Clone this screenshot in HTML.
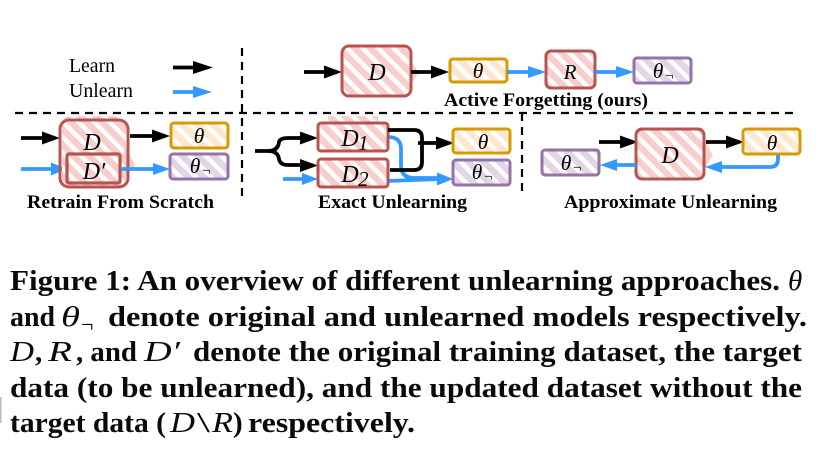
<!DOCTYPE html>
<html><head><meta charset="utf-8">
<style>
html,body{margin:0;padding:0;background:#fff;width:822px;height:454px;overflow:hidden}
svg{display:block}
text{font-family:"Liberation Serif",serif;fill:#000}
.cap{font-size:29px;font-weight:bold;fill:#0a0a0a}
.capm{font-size:29px;font-style:italic;fill:#0a0a0a}
.lab{font-size:18.5px;font-weight:bold}
.leg{font-size:19.5px}
.m{font-size:24px;font-style:italic;text-anchor:middle}
.s{font-size:21.5px;font-style:italic;text-anchor:middle}
.n{font-size:15px}
.r{stroke:#b85450;stroke-width:3;fill:none}
.y{stroke:#d79b00;stroke-width:3;fill:none}
.p{stroke:#9673a6;stroke-width:3;fill:none}
.k{stroke:#000;stroke-width:3.8;fill:none}
.b{stroke:#3399ff;stroke-width:3.8;fill:none}
.d{stroke:#000;stroke-width:2.2;fill:none;stroke-dasharray:8 6}
</style></head><body>
<svg width="822" height="454" viewBox="0 0 822 454" xmlns="http://www.w3.org/2000/svg">
<defs>
<pattern id="hr" width="11" height="11" patternUnits="userSpaceOnUse" patternTransform="rotate(45)"><rect width="11" height="11" fill="#fff"/><rect width="11" height="6.5" fill="#f8cecc"/></pattern>
<pattern id="hy" width="11" height="11" patternUnits="userSpaceOnUse" patternTransform="rotate(45)"><rect width="11" height="11" fill="#fff"/><rect width="11" height="6.5" fill="#ffe6cc"/></pattern>
<pattern id="hp" width="11" height="11" patternUnits="userSpaceOnUse" patternTransform="rotate(45)"><rect width="11" height="11" fill="#fff"/><rect width="11" height="6.5" fill="#e1d5e7"/></pattern>
</defs>

<!-- dashed -->
<path class="d" d="M15 113H797"/>
<path class="d" d="M242 48V200"/>
<path class="d" d="M522 113V195"/>

<!-- legend -->
<text class="leg" x="69" y="72" textLength="46" lengthAdjust="spacingAndGlyphs">Learn</text>
<text class="leg" x="69" y="97" textLength="64" lengthAdjust="spacingAndGlyphs">Unlearn</text>
<path class="k" d="M173 67.5H195"/><path d="M193 61L213 67.5L193 74Z"/>
<path class="b" d="M173 92H195"/><path d="M193 86L212 92L193 98Z" fill="#3399ff"/>

<!-- Active Forgetting -->
<path class="k" d="M304 72H326"/><path d="M324 65.5L342 72L324 78.5Z"/>
<rect x="342" y="46" width="69" height="50" rx="7" fill="url(#hr)"/>
<path d="M411 62L419 72L411 84Z" fill="#f8cecc"/>
<rect class="r" x="342" y="46" width="69" height="50" rx="7"/>
<text class="m" x="377" y="80">D</text>
<path class="k" d="M411 72H433"/><path d="M431 65.5L449 72L431 78.5Z"/>
<rect x="450" y="59" width="57" height="23" rx="3" fill="url(#hy)"/><rect class="y" x="450" y="59" width="57" height="23" rx="3"/>
<text class="s" x="478" y="78">θ</text>
<path class="b" d="M507 72H530"/><path d="M528 66L546 72L528 78Z" fill="#3399ff"/>
<rect x="546" y="51" width="49" height="37" rx="5" fill="url(#hr)"/><rect class="r" x="546" y="51" width="49" height="37" rx="5"/>
<text class="m" x="570" y="79" style="font-size:21px">R</text>
<path class="b" d="M595 72H618"/><path d="M616 66L634 72L616 78Z" fill="#3399ff"/>
<rect x="634" y="58" width="57" height="25" rx="3" fill="url(#hp)"/><rect class="p" x="634" y="58" width="57" height="25" rx="3"/>
<text class="s" x="658" y="78">θ</text><text class="n" x="665" y="80">¬</text>
<text class="lab" x="444" y="106" textLength="204" lengthAdjust="spacingAndGlyphs">Active Forgetting (ours)</text>

<!-- Retrain -->
<path class="k" d="M21 138H44"/><path d="M42 131.500L60 138L42 144.500Z"/>
<path class="b" d="M21 169H52"/><path d="M51 162.500L67 169L51 175.500Z" fill="#3399ff"/>
<rect x="62" y="116" width="64" height="72" rx="8" fill="url(#hr)"/>
<path d="M124 145L135 165L124 178Z" fill="#f8cecc"/>
<rect class="r" x="60" y="120" width="68" height="67" rx="9"/>
<text class="m" x="92" y="150">D</text>
<rect x="67" y="154" width="53" height="29" rx="2" fill="url(#hr)"/>
<rect class="r" x="67" y="154" width="53" height="29" rx="2" style="stroke-width:3.2"/>
<text class="m" x="94" y="179">D′</text>
<path class="k" d="M130 136H154"/><path d="M152 129.500L170 136L152 142.500Z"/>
<path class="b" d="M121 169H154"/><path d="M153 163L170 169L153 175Z" fill="#3399ff"/>
<rect x="171" y="123" width="57" height="25" rx="3" fill="url(#hy)"/><rect class="y" x="171" y="123" width="57" height="25" rx="3"/>
<text class="s" x="199" y="143">θ</text>
<rect x="170" y="154" width="58" height="25" rx="3" fill="url(#hp)"/><rect class="p" x="170" y="154" width="58" height="25" rx="3"/>
<text class="s" x="195" y="173">θ</text><text class="n" x="202" y="175">¬</text>
<text class="lab" x="27" y="208" textLength="187" lengthAdjust="spacingAndGlyphs">Retrain From Scratch</text>

<!-- Exact -->
<path class="k" d="M255 151H268Q278 151 279 142Q280 138 288 138H302"/>
<path class="k" d="M268 151Q278 151 279 159Q280 165 288 165H302"/>
<path d="M300 131.500L318 138L300 144.500Z"/><path d="M300 159L318 165.500L300 172Z"/>
<path class="b" d="M283 179H304"/><path d="M302 173L318 179L302 185Z" fill="#3399ff"/>
<path class="b" d="M388 137Q401 137 401 149V165Q401 178 414 178H440"/>
<path class="b" d="M388 181L440 179"/>
<path d="M437 172.500L453 179L437 185.500Z" fill="#3399ff"/>
<rect x="328" y="116" width="50" height="36" fill="url(#hr)"/>
<rect x="318" y="123" width="70" height="28" rx="3" fill="url(#hr)"/><rect class="r" x="318" y="123" width="70" height="28" rx="3"/>
<text class="m" x="350" y="146">D</text><text x="358" y="150" style="font-size:21px;font-style:italic">1</text>
<rect x="318" y="159" width="70" height="28" rx="3" fill="url(#hr)"/><rect class="r" x="318" y="159" width="70" height="28" rx="3"/>
<text class="m" x="350" y="182">D</text><text x="358" y="186" style="font-size:21px;font-style:italic">2</text>
<path class="k" d="M388 130H414Q422 130 422 138V162Q422 170 414 170H390"/>
<path class="k" d="M418 143H438"/><path d="M436 136.500L454 143L436 149.500Z"/>
<rect x="453" y="129" width="57" height="24" rx="3" fill="url(#hy)"/><rect class="y" x="453" y="129" width="57" height="24" rx="3"/>
<text class="s" x="483" y="149">θ</text>
<rect x="453" y="160" width="57" height="25" rx="3" fill="url(#hp)"/><rect class="p" x="453" y="160" width="57" height="25" rx="3"/>
<text class="s" x="477" y="179">θ</text><text class="n" x="484" y="181">¬</text>
<text class="lab" x="318" y="208" textLength="149" lengthAdjust="spacingAndGlyphs">Exact Unlearning</text>

<!-- Approximate -->
<path class="k" d="M599 142H622"/><path d="M620 135.500L638 142L620 148.500Z"/>
<rect x="636" y="129" width="68" height="50" rx="6" fill="url(#hr)"/>
<path d="M704 140L713 155L704 170Z" fill="#f8cecc"/>
<rect class="r" x="636" y="129" width="68" height="50" rx="6"/>
<text class="m" x="670" y="163">D</text>
<path class="k" d="M706 142H728"/><path d="M726 135.500L744 142L726 148.500Z"/>
<rect x="743" y="129" width="57" height="25" rx="3" fill="url(#hy)"/><rect class="y" x="743" y="129" width="57" height="25" rx="3"/>
<text class="s" x="772" y="150">θ</text>
<path class="b" d="M778 155V159Q778 167 770 167H720"/><path d="M722 161L705 167L722 173Z" fill="#3399ff"/>
<path class="b" d="M636 165H615"/><path d="M617 159L600 165L617 171Z" fill="#3399ff"/>
<rect x="542" y="150" width="57" height="25" rx="3" fill="url(#hp)"/><rect class="p" x="542" y="150" width="57" height="25" rx="3"/>
<text class="s" x="566" y="170">θ</text><text class="n" x="573" y="172">¬</text>
<text class="lab" x="564" y="208" textLength="213" lengthAdjust="spacingAndGlyphs">Approximate Unlearning</text>

<!-- caption -->
<text class="cap" x="10" y="290" textLength="770" lengthAdjust="spacingAndGlyphs">Figure 1: An overview of different unlearning approaches.</text>
<text class="capm" x="788" y="290">θ</text>
<text class="cap" x="10" y="326" textLength="45" lengthAdjust="spacingAndGlyphs">and</text>
<text class="capm" x="61" y="326" textLength="19" lengthAdjust="spacingAndGlyphs">θ</text><text x="81" y="332" style="font-size:22px">¬</text>
<text class="cap" x="108" y="326" textLength="699" lengthAdjust="spacingAndGlyphs">denote original and unlearned models respectively.</text>
<text class="capm" x="10" y="361" textLength="24" lengthAdjust="spacingAndGlyphs">D</text><text class="cap" x="35" y="361">,</text>
<text class="capm" x="48" y="361" textLength="24" lengthAdjust="spacingAndGlyphs">R</text>
<text class="cap" x="76" y="361" textLength="61" lengthAdjust="spacingAndGlyphs">, and</text>
<text class="capm" x="144" y="361" textLength="36" lengthAdjust="spacingAndGlyphs">D′</text>
<text class="cap" x="193" y="361" textLength="609" lengthAdjust="spacingAndGlyphs">denote the original training dataset, the target</text>
<text class="cap" x="10" y="397" textLength="792" lengthAdjust="spacingAndGlyphs">data (to be unlearned), and the updated dataset without the</text>
<text class="cap" x="10" y="432" textLength="156" lengthAdjust="spacingAndGlyphs">target data (</text>
<text class="capm" x="170" y="432" textLength="25" lengthAdjust="spacingAndGlyphs">D</text>
<text x="197" y="432" style="font-size:29px" textLength="13" lengthAdjust="spacingAndGlyphs">\</text>
<text class="capm" x="212" y="432" textLength="21" lengthAdjust="spacingAndGlyphs">R</text>
<text class="cap" x="233" y="432">)</text>
<text class="cap" x="248" y="432" textLength="167" lengthAdjust="spacingAndGlyphs">respectively.</text>
<rect x="0" y="397" width="1.5" height="26" fill="#bbb"/>
</svg>
</body></html>
